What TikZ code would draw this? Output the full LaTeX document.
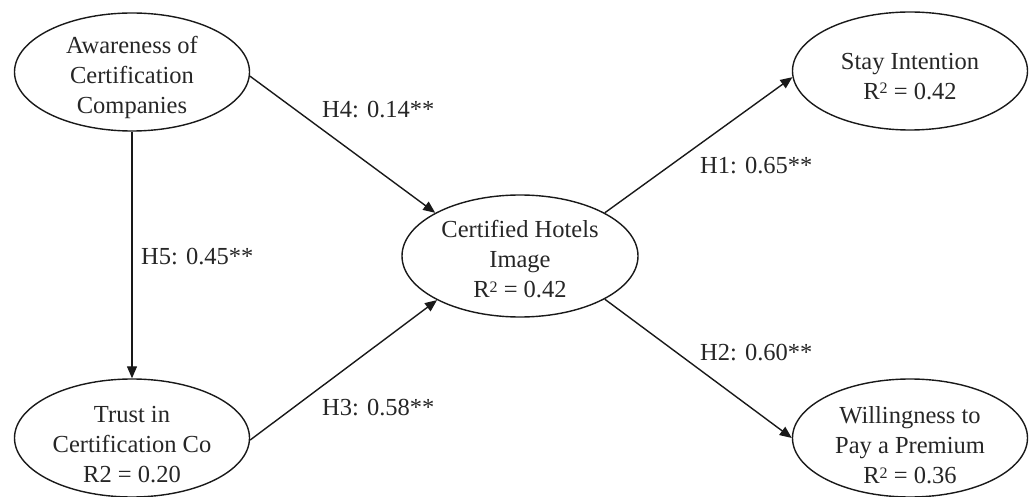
\documentclass[tikz,border=0pt]{standalone}
\usepackage{fontspec}
\setmainfont{Liberation Serif}
\usetikzlibrary{arrows.meta,shapes.geometric}
% squared exponent, set a little larger than the font's own superscript glyph
\newcommand\sqr{\raisebox{5.5bp}{\fontsize{16bp}{16bp}\selectfont 2}}
\begin{document}
\begin{tikzpicture}[x=1bp,y=-1bp,
  construct/.style={ellipse, draw=black!90, line width=1.4bp,
    minimum width=235bp, minimum height=118bp, inner sep=0pt},
  ctext/.style={align=center, inner sep=0pt, text=black!85,
    font=\fontsize{24.5bp}{30bp}\selectfont},
  link/.style={draw=black!90, line width=1.4bp,
    -{Triangle[length=12bp,width=10bp]}},
  coef/.style={anchor=base west, inner sep=0pt, text=black!85,
    font=\fontsize{24.5bp}{30bp}\selectfont}
]
\useasboundingbox (0,0) rectangle (1033,497);

% latent constructs
\node[construct] (aw) at (132,72) {};
\node[construct] (tr) at (132,438) {};
\node[construct, minimum width=236bp, minimum height=122bp] (ch) at (520,256) {};
\node[construct] (st) at (910,71) {};
\node[construct] (wp) at (910,438) {};

% construct names
\node[ctext, yshift=-5bp]   (awt) at (aw) {Awareness of\\Certification\\Companies};
\node[ctext, yshift=-6.5bp] (trt) at (tr) {Trust in\\Certification Co\\R2 = 0.20};
\node[ctext, yshift=-3.5bp] (cht) at (ch) {Certified Hotels\\Image\\R\sqr{} = 0.42};
\node[ctext, yshift=-5.5bp] (stt) at (st) {Stay Intention\\R\sqr{} = 0.42};
\node[ctext, yshift=-7.5bp] (wpt) at (wp) {Willingness to\\Pay a Premium\\R\sqr{} = 0.36};

% structural paths
\draw[link] (aw.south) -- (tr.north);
\draw[link] (aw.-2) -- (ch.153);
\draw[link] (tr.-1) -- (ch.208);
\draw[link] (ch.27) -- (st.183);
\draw[link] (ch.333) -- (wp.west);

% path coefficients
\node[coef] (h4) at (322,118) {H4: 0.14**};
\node[coef] (h1) at (700,174) {H1: 0.65**};
\node[coef] (h5) at (141,265) {H5: 0.45**};
\node[coef] (h3) at (322,415) {H3: 0.58**};
\node[coef] (h2) at (700,361) {H2: 0.60**};
\end{tikzpicture}
\end{document}
